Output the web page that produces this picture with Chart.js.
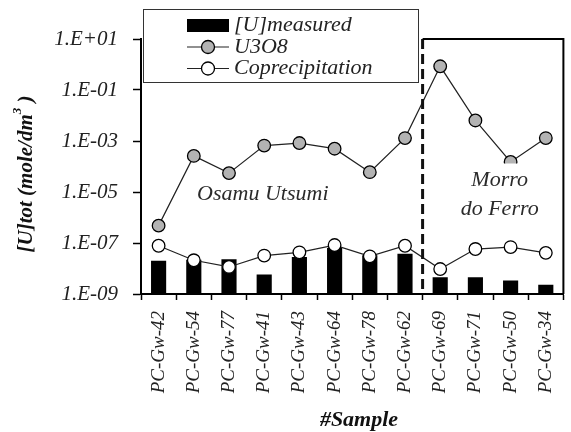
<!DOCTYPE html>
<html>
<head>
<meta charset="utf-8">
<script src="https://cdn.jsdelivr.net/npm/chart.js@4.4.1/dist/chart.umd.min.js"></script>
<style>
  html, body { margin: 0; padding: 0; background: #fff; }
  #wrap { width: 571px; height: 432px; position: relative; }
</style>
</head>
<body>
<div id="wrap"><canvas id="c" width="571" height="432"></canvas></div>
<script>
// Groundwater samples and uranium concentrations (mole/dm3)
const samples = ['PC-Gw-42', 'PC-Gw-54', 'PC-Gw-77', 'PC-Gw-41', 'PC-Gw-43', 'PC-Gw-64',
                 'PC-Gw-78', 'PC-Gw-62', 'PC-Gw-69', 'PC-Gw-71', 'PC-Gw-50', 'PC-Gw-34'];
const measured = [2.0e-8, 2.2e-8, 2.3e-8, 5.8e-9, 2.8e-8, 6.3e-8,
                  3.3e-8, 3.8e-8, 4.5e-9, 4.5e-9, 3.4e-9, 2.3e-9];
const u3o8 = [4.8e-7, 2.6e-4, 5.5e-5, 6.6e-4, 8.3e-4, 5.0e-4,
              6.0e-5, 1.3e-3, 0.85, 6.4e-3, 1.5e-4, 1.3e-3];
const coprecipitation = [7.8e-8, 2.1e-8, 1.15e-8, 3.2e-8, 4.3e-8, 8.3e-8,
                         3.0e-8, 7.8e-8, 9.5e-9, 5.8e-8, 6.9e-8, 4.1e-8];
const seriesNames = ['[U]measured', 'U3O8', 'Coprecipitation'];
const yTickValues = [1e-9, 1e-7, 1e-5, 1e-3, 1e-1, 1e1];
const yTickLabels = ['1.E-09', '1.E-07', '1.E-05', '1.E-03', '1.E-01', '1.E+01'];
const siteNames = ['Osamu Utsumi', 'Morro', 'do Ferro'];
const firstMorroIndex = 8;

const SERIF = '"Liberation Serif", "Times New Roman", serif';

const decorations = {
  id: 'decorations',
  afterDatasetsDraw(chart) {
    const { ctx, chartArea: a, scales: { x, y } } = chart;
    const split = (x.getPixelForValue(firstMorroIndex - 1) + x.getPixelForValue(firstMorroIndex)) / 2;
    ctx.save();

    // site names
    ctx.font = 'italic 22px ' + SERIF;
    ctx.textAlign = 'center';
    ctx.textBaseline = 'middle';
    const mx = x.getPixelForValue(9.69);
    ctx.fillStyle = '#fff';
    ctx.fillRect(mx - 44, 163.5, 88, 60);
    ctx.fillStyle = '#2a2a2a';
    ctx.fillText(siteNames[0], x.getPixelForValue(2.96), y.getPixelForValue(8e-6));
    ctx.fillText(siteNames[1], mx, y.getPixelForValue(3e-5));
    ctx.fillText(siteNames[2], mx, y.getPixelForValue(2.2e-6));

    // dashed separator
    ctx.strokeStyle = '#111';
    ctx.lineWidth = 3;
    ctx.setLineDash([10, 5]);
    ctx.beginPath();
    ctx.moveTo(split, a.top);
    ctx.lineTo(split, a.bottom);
    ctx.stroke();

    // frame around second site
    ctx.setLineDash([]);
    ctx.lineWidth = 2;
    ctx.strokeStyle = '#000';
    ctx.beginPath();
    ctx.moveTo(split, a.top);
    ctx.lineTo(a.right, a.top);
    ctx.lineTo(a.right, a.bottom);
    ctx.stroke();
    ctx.restore();
  },
  afterDraw(chart) {
    const { ctx } = chart;
    const ds = chart.data.datasets;
    ctx.save();

    // legend
    ctx.fillStyle = '#fff';
    ctx.fillRect(143.5, 9.5, 275, 73);
    ctx.strokeStyle = '#333';
    ctx.lineWidth = 1;
    ctx.strokeRect(143.5, 9.5, 275, 73);
    const rows = [25.5, 47, 68.5];
    ctx.font = 'italic 22px ' + SERIF;
    ctx.textBaseline = 'middle';
    ctx.textAlign = 'left';
    ds.forEach((d, i) => {
      const cy = rows[i];
      if (d.type === 'line') {
        ctx.strokeStyle = d.borderColor;
        ctx.lineWidth = 1.2;
        ctx.beginPath();
        ctx.moveTo(187, cy);
        ctx.lineTo(229, cy);
        ctx.stroke();
        ctx.beginPath();
        ctx.arc(208, cy, 6.5, 0, Math.PI * 2);
        ctx.fillStyle = d.pointBackgroundColor;
        ctx.fill();
        ctx.strokeStyle = d.pointBorderColor;
        ctx.lineWidth = 1.3;
        ctx.stroke();
      } else {
        ctx.fillStyle = d.backgroundColor;
        ctx.fillRect(187, cy - 6.5, 42, 13);
      }
      ctx.fillStyle = '#222';
      ctx.fillText(d.label, 234, cy);
    });

    // axis titles
    ctx.fillStyle = '#111';
    ctx.textAlign = 'left';
    ctx.textBaseline = 'middle';
    ctx.font = 'bold italic 21px ' + SERIF;
    const main = '[U]tot (mole/dm';
    const tail = ' )';
    const wMain = ctx.measureText(main).width;
    const wTail = ctx.measureText(tail).width;
    ctx.font = 'bold italic 13px ' + SERIF;
    const wSup = ctx.measureText('3').width;
    const total = wMain + wSup + wTail;
    ctx.translate(27, 174);
    ctx.rotate(-Math.PI / 2);
    let px = -total / 2;
    ctx.font = 'bold italic 21px ' + SERIF;
    ctx.fillText(main, px, 0);
    px += wMain;
    ctx.font = 'bold italic 13px ' + SERIF;
    ctx.fillText('3', px, -9);
    px += wSup;
    ctx.font = 'bold italic 21px ' + SERIF;
    ctx.fillText(tail, px, 0);
    ctx.setTransform(1, 0, 0, 1, 0, 0);

    ctx.textAlign = 'center';
    ctx.font = 'bold italic 22px ' + SERIF;
    ctx.fillText('#Sample', 359, 420);
    ctx.restore();
  }
};

function build() {
  new Chart(document.getElementById('c'), {
    type: 'bar',
    data: {
      labels: samples,
      datasets: [
        {
          type: 'bar', label: seriesNames[0], data: measured, order: 3,
          backgroundColor: '#000', borderWidth: 0,
          barPercentage: 0.43, categoryPercentage: 1
        },
        {
          type: 'line', label: seriesNames[1], data: u3o8, order: 1,
          borderColor: '#222', borderWidth: 1.2, tension: 0,
          pointRadius: 6.3, pointHoverRadius: 6.3,
          pointBackgroundColor: '#b3b3b3', pointBorderColor: '#000', pointBorderWidth: 1.3
        },
        {
          type: 'line', label: seriesNames[2], data: coprecipitation, order: 2,
          borderColor: '#222', borderWidth: 1.2, tension: 0,
          pointRadius: 6.3, pointHoverRadius: 6.3,
          pointBackgroundColor: '#fff', pointBorderColor: '#000', pointBorderWidth: 1.3
        }
      ]
    },
    options: {
      responsive: false,
      animation: false,
      devicePixelRatio: 1,
      events: [],
      layout: { padding: { top: 39, right: 4, left: 0, bottom: 0 } },
      plugins: { legend: { display: false }, tooltip: { enabled: false }, title: { display: false } },
      scales: {
        x: {
          type: 'category',
          offset: true,
          grid: { offset: true, drawOnChartArea: false, drawTicks: true, tickLength: 6, tickColor: '#000', tickWidth: 1.5 },
          border: { display: true, color: '#000', width: 2 },
          ticks: {
            autoSkip: false, minRotation: 90, maxRotation: 90, padding: 11,
            color: '#222', font: { family: SERIF, size: 19, style: 'italic' }
          },
          afterFit(s) { s.height = 138; s.paddingLeft = 0; s.paddingRight = 0; }
        },
        y: {
          type: 'logarithmic',
          min: 1e-9, max: 1e1,
          afterBuildTicks(s) { s.ticks = yTickValues.map(v => ({ value: v, major: true })); },
          grid: { drawOnChartArea: false, drawTicks: true, tickLength: 8, tickColor: '#000', tickWidth: 1.5 },
          border: { display: true, color: '#000', width: 2 },
          ticks: {
            autoSkip: false, padding: 15, color: '#222',
            font: { family: SERIF, size: 21, style: 'italic' },
            callback: (v, i) => yTickLabels[i]
          },
          afterFit(s) { s.width = 141; s.paddingTop = 0; s.paddingBottom = 0; }
        }
      }
    },
    plugins: [decorations]
  });
}

Promise.all([
  document.fonts.load('italic 22px "Liberation Serif"'),
  document.fonts.load('bold italic 22px "Liberation Serif"')
]).then(build, build);
</script>
</body>
</html>
